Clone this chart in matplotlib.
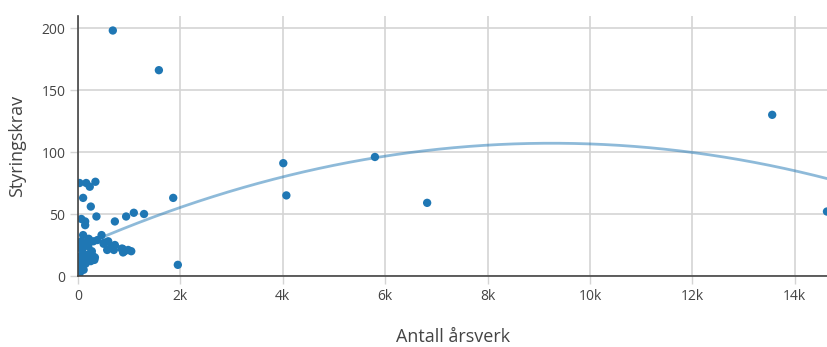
import numpy as np
import matplotlib
matplotlib.use("Agg")
import matplotlib.pyplot as plt
from matplotlib.ticker import FixedLocator, FuncFormatter

# Antall årsverk (x) and styringskrav (y) per virksomhet
arsverk = [
    680, 1580, 4010, 4070, 5800, 6820, 13560, 14630, 1860, 1950,
    30, 160, 230, 340, 100, 250, 360, 65, 140, 140,
    720, 940, 1090, 1290,
    100, 460, 210, 380, 590, 520, 720, 570, 700, 870,
    910, 980, 1040, 880, 650, 850, 500, 300,
    65, 0, 200, 260, 330, 30, 160, 0, 30,
    40, 120, 180, 230, 290, 320, 130, 150, 65, 20,
    10, 50, 90, 170, 250, 40, 80, 110, 20, 5,
    60, 210, 30, 100, 270,
    10, 40, 70, 25, 90,
]
styringskrav = [
    198, 166, 91, 65, 96, 59, 130, 52, 63, 9,
    75, 75, 72, 76, 63, 56, 48, 46, 44, 41,
    44, 48, 51, 50,
    33, 33, 30, 29, 28, 27, 25, 21, 21, 22,
    20, 21, 20, 19, 24, 22, 26, 28,
    28, 24, 24, 18, 15, 11, 13, 5, 2,
    24, 26, 25, 18, 16, 13, 13, 10, 9, 5,
    3, 7, 15, 17, 12, 12, 21, 5, 10, 2,
    16, 27, 26, 18, 20,
    1, 4, 8, 14, 11,
]

x_ticks = [0, 2000, 4000, 6000, 8000, 10000, 12000, 14000]
y_ticks = [0, 50, 100, 150, 200]

x = np.array(arsverk, dtype=float)
y = np.array(styringskrav, dtype=float)

plt.rcParams["font.family"] = ["Open Sans", "DejaVu Sans"]

W, H = 828, 347
fig = plt.figure(figsize=(W / 100, H / 100), dpi=100)
ax = fig.add_axes([78 / W, 1 - 276 / H, (828 - 78) / W, (276 - 16) / H])

# second-degree trend line fitted to the data
coef = np.polyfit(x, y, 2)
xs = np.linspace(x.min(), x.max(), 300)
ax.plot(xs, np.polyval(coef, xs), color="#1f77b4", alpha=0.5, lw=2.0,
        solid_capstyle="round", zorder=3)

ax.scatter(x, y, s=36, color="#1f77b4", edgecolors="none", zorder=4,
           clip_on=True)

ax.set_xlim(0, 14650)
ax.set_ylim(0, 209.7)

ax.xaxis.set_major_locator(FixedLocator(x_ticks))
ax.yaxis.set_major_locator(FixedLocator(y_ticks))
ax.xaxis.set_major_formatter(FuncFormatter(lambda v, p: "0" if v == 0 else f"{int(v/1000)}k"))
ax.yaxis.set_major_formatter(FuncFormatter(lambda v, p: f"{int(v)}"))

grid_c = "#d4d4d4"
ax.grid(True, color=grid_c, lw=1.2, zorder=0)
ax.set_axisbelow(True)
for s in ["top", "right"]:
    ax.spines[s].set_visible(False)
for s in ["left", "bottom"]:
    ax.spines[s].set_color("#444444")
    ax.spines[s].set_linewidth(1.2)
    ax.spines[s].set_zorder(5)

ax.tick_params(axis="both", direction="out", length=6, width=1,
               color=grid_c, labelcolor="#444444", labelsize=10, pad=3)

ax.set_xlabel("Antall årsverk", fontsize=13, color="#444444")
ax.set_ylabel("Styringskrav", fontsize=13, color="#444444")
ax.xaxis.set_label_coords(0.5, -(346 - 276) / (276 - 16), transform=ax.transAxes)
ax.xaxis.label.set_va("bottom")
ax.yaxis.set_label_coords(-(78 - 17) / (828 - 78), 0.5, transform=ax.transAxes)
ax.yaxis.label.set_va("center")

fig.savefig("out.png", dpi=100)
